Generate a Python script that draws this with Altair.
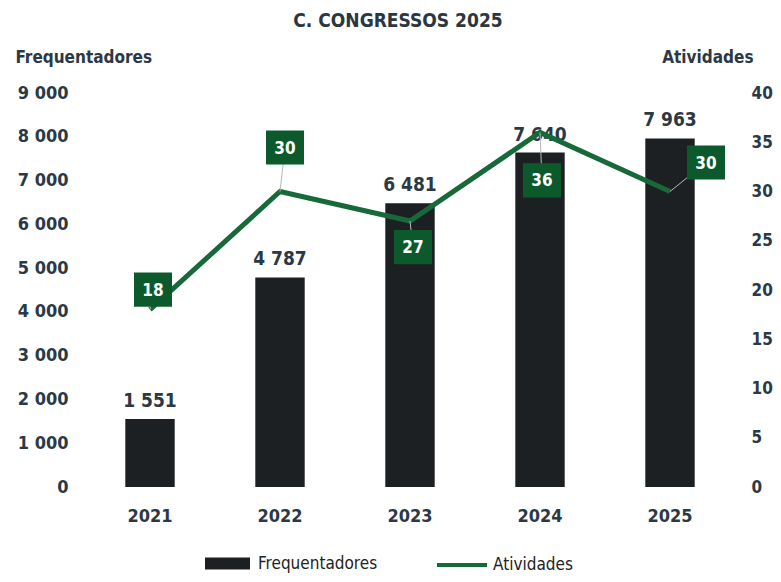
import altair as alt
import pandas as pd

# ---- data ----
years = ["2021", "2022", "2023", "2024", "2025"]
frequentadores = [1551, 4787, 6481, 7640, 7963]
atividades = [18, 30, 27, 36, 30]

# label box placement (pixel offsets from each line point)
box_dx = [3, 5, 3, 2, 36]
box_dy = [-20, -44, 26, 48, -29]

FONT = "Liberation Sans Narrow, DejaVu Sans Condensed, sans-serif"
TEXT = "#2b3845"
BAR = "#1d2023"
GREEN = "#17693a"
BOX = "#0c5a2c"

df = pd.DataFrame({"ano": years, "freq": frequentadores, "ativ": atividades})
df["freq_label"] = [f"{v:,}".replace(",", " ") for v in frequentadores]

base = alt.Chart(df)

x = alt.X(
    "ano:N",
    sort=years,
    scale=alt.Scale(paddingInner=0.62, paddingOuter=0.31),
    axis=alt.Axis(title=None, labelAngle=0, ticks=False, domain=False,
                  labelPadding=20, labelFontSize=18, labelFont=FONT,
                  labelFontWeight="bold", labelColor=TEXT),
)

y_left = alt.Y(
    "freq:Q",
    scale=alt.Scale(domain=[0, 9000], nice=False),
    axis=alt.Axis(values=list(range(0, 9001, 1000)),
                  labelExpr="replace(format(datum.value, ','), ',', ' ')",
                  title="Frequentadores", titleAngle=0, titleAlign="left",
                  titleBaseline="middle", titleX=-70, titleY=-36,
                  titleFont=FONT, titleFontSize=17, titleFontWeight="bold",
                  titleColor=TEXT, grid=False, domain=False, ticks=False,
                  labelPadding=17, labelFont=FONT, labelFontSize=18,
                  labelFontWeight="bold", labelColor=TEXT),
)

y_right = alt.Y(
    "ativ:Q",
    scale=alt.Scale(domain=[0, 40], nice=False),
    axis=alt.Axis(orient="right", values=list(range(0, 41, 5)),
                  title="Atividades", titleAngle=0, titleAlign="right",
                  titleBaseline="middle", titleX=18, titleY=-36,
                  titleFont=FONT, titleFontSize=17, titleFontWeight="bold",
                  titleColor=TEXT, grid=False, domain=False, ticks=False,
                  labelPadding=16, labelFont=FONT, labelFontSize=17,
                  labelFontWeight="bold", labelColor=TEXT),
)

bars = base.transform_calculate(serie="'Frequentadores'").mark_bar().encode(
    x=x,
    y=y_left,
    color=alt.Color("serie:N",
                    scale=alt.Scale(domain=["Frequentadores"], range=[BAR]),
                    legend=alt.Legend(title=None, orient="none", legendX=120,
                                      legendY=448, symbolType="M-1,-0.27H1V0.27H-1Z",
                                      symbolSize=2025, symbolStrokeWidth=0,
                                      labelFont=FONT, labelFontSize=17,
                                      labelColor="#222222", labelOffset=8,
                                      padding=0)),
)

bar_text = base.mark_text(baseline="bottom", dy=-8, font=FONT, fontSize=19,
                          fontWeight="bold", color=TEXT).encode(
    x=x, y=y_left, text="freq_label:N")

line = base.transform_calculate(serie2="'Atividades'").mark_line(strokeWidth=5).encode(
    x=x,
    y=y_right,
    stroke=alt.Stroke("serie2:N",
                      scale=alt.Scale(domain=["Atividades"], range=[GREEN]),
                      legend=alt.Legend(title=None, orient="none", legendX=350,
                                        legendY=445, symbolType="stroke",
                                        symbolSize=2500, symbolStrokeWidth=4,
                                        labelFont=FONT, labelFontSize=17,
                                        labelColor="#222222", labelOffset=4,
                                        padding=0)),
)

label_layers = []
for i, yr in enumerate(years):
    sub = base.transform_filter(alt.datum.ano == yr)
    leader = sub.mark_rule(color="#b8b8b8", strokeWidth=1,
                           x2Offset=box_dx[i], y2Offset=box_dy[i]).encode(
        x=x, y=y_right, x2="ano:N", y2="ativ:Q")
    box = sub.mark_point(shape="M-1,-0.9H1V0.9H-1Z", size=38 * 38, filled=True,
                         fill=BOX, opacity=1, strokeWidth=0,
                         xOffset=box_dx[i], yOffset=box_dy[i]).encode(
        x=x, y=y_right)
    txt = sub.mark_text(color="white", font=FONT, fontSize=17, fontWeight="bold",
                        align="center", baseline="middle",
                        xOffset=box_dx[i], yOffset=box_dy[i] + 1).encode(
        x=x, y=y_right, text="ativ:Q")
    label_layers += [leader, box, txt]

left = alt.layer(bars, bar_text)
right = alt.layer(line, *label_layers)

chart = alt.layer(left, right).resolve_scale(
    y="independent", color="independent", stroke="independent"
).properties(
    width=650, height=394,
    padding={"left": 77, "top": 85, "right": 38, "bottom": 87},
    autosize=alt.AutoSizeParams(type="none"),
    title=alt.TitleParams(text="C. CONGRESSOS 2025", font=FONT, fontSize=19,
                          fontWeight="bold", color="#2b3640", anchor="middle",
                          dx=-12, offset=17),
).configure_view(stroke=None)

chart.save("out.html", embed_options={"renderer": "svg", "actions": False})
